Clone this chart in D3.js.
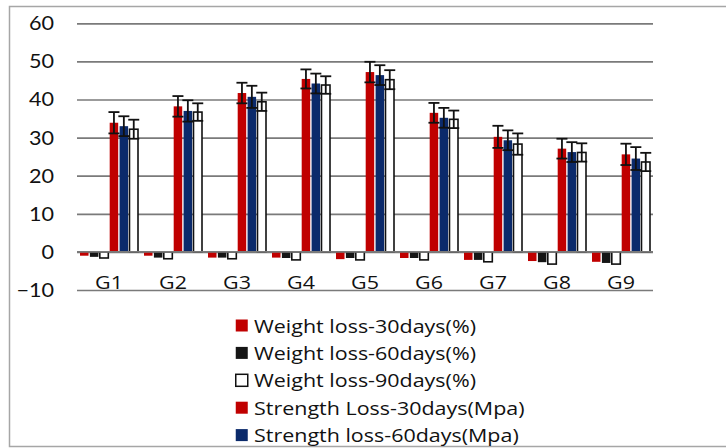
<!DOCTYPE html>
<html>
<head>
<meta charset="utf-8">
<script src="https://cdn.jsdelivr.net/npm/d3@7"></script>
<style>
  html, body { margin: 0; padding: 0; background: #fff; }
  svg { display: block; font-family: Lato, "Open Sans", sans-serif; }
</style>
</head>
<body>
<svg id="chart" width="726" height="448"></svg>
<script>
const groups = ["G1","G2","G3","G4","G5","G6","G7","G8","G9"];
const seriesNames = [
  "Weight loss-30days(%)",
  "Weight loss-60days(%)",
  "Weight loss-90days(%)",
  "Strength Loss-30days(Mpa)",
  "Strength loss-60days(Mpa)",
  "Strength loss-90days(Mpa)"
];
const weight30 = [-1.0, -1.0, -1.5, -1.5, -1.9, -1.6, -2.1, -2.4, -2.6];
const weight60 = [-1.3, -1.5, -1.5, -1.6, -1.6, -1.6, -2.1, -2.7, -2.9];
const weight90 = [-1.6, -1.8, -1.8, -2.1, -2.1, -2.1, -2.6, -3.2, -3.2];
const strength30 = [33.9, 38.2, 41.7, 45.4, 47.2, 36.5, 30.2, 27.1, 25.6];
const strength60 = [33.0, 37.0, 40.7, 44.2, 46.4, 35.2, 29.3, 26.2, 24.5];
const strength90 = [32.2, 36.7, 39.4, 43.8, 45.2, 34.8, 28.3, 26.1, 23.6];
const strength30Err = [2.8, 2.7, 2.7, 2.5, 2.7, 2.6, 2.9, 2.6, 2.8];
const strength60Err = [2.6, 2.8, 2.9, 2.6, 2.6, 2.6, 2.6, 2.6, 3.0];
const strength90Err = [2.5, 2.3, 2.4, 2.3, 2.5, 2.3, 2.8, 2.4, 2.4];
const yTicks = [-10, 0, 10, 20, 30, 40, 50, 60];
// the reference picture crops the legend after its fifth entry
const visibleLegendCount = 5;

const seriesValues = [weight30, weight60, weight90, strength30, strength60, strength90];
const seriesErrors = [null, null, null, strength30Err, strength60Err, strength90Err];
const fills = ["#c00000", "#151515", "#ffffff", "#c00000", "#0b2a6b", "#ffffff"];
const strokes = ["none", "none", "#111", "none", "none", "#111"];
const stretch = 1.13; // the reference picture is horizontally stretched

const svg = d3.select("#chart");

// outer frame
svg.append("rect")
  .attr("x", 9.5).attr("y", 6.5)
  .attr("width", 730).attr("height", 440)
  .attr("fill", "none").attr("stroke", "#a6a6a6").attr("stroke-width", 1.5);

const x0 = d3.scaleBand().domain(groups).range([77, 653]).padding(0);
const x1 = d3.scaleBand().domain(d3.range(seriesNames.length)).range([3, 61]).paddingInner(0.14);
const y = d3.scaleLinear().domain([-10, 60]).range([290, 23.3]);

// gridlines + y labels
const yAxis = d3.axisLeft(y).tickValues(yTicks).tickSize(-(653 - 77)).tickPadding(23).tickFormat(d3.format("d"));
const ga = svg.append("g").attr("transform", "translate(77,0)").call(yAxis);
ga.select(".domain").remove();
ga.selectAll(".tick line").attr("stroke", "#7a7a7a").attr("stroke-width", 1.7);
ga.selectAll(".tick text")
  .attr("fill", "#111")
  .attr("x", -23 / 1.08)
  .attr("transform", "scale(1.08,1)")
  .style("font-size", "20px").style("font-family", "Lato, sans-serif");

// category labels
svg.append("g").selectAll("text").data(groups).join("text")
  .attr("transform", d => `translate(${x0(d) + x0.bandwidth() / 2},289) scale(${stretch},1)`)
  .attr("text-anchor", "middle")
  .attr("fill", "#111")
  .style("font-family", "'Open Sans', sans-serif")
  .style("font-size", "19px")
  .text(d => d);

// bars
const barData = [];
seriesValues.forEach((vals, si) => {
  vals.forEach((v, gi) => barData.push({ si, g: groups[gi], v, e: seriesErrors[si] ? seriesErrors[si][gi] : null }));
});

svg.append("g").selectAll("rect").data(barData).join("rect")
  .attr("x", d => x0(d.g) + x1(d.si))
  .attr("y", d => y(Math.max(0, d.v)))
  .attr("width", x1.bandwidth())
  .attr("height", d => Math.abs(y(d.v) - y(0)))
  .attr("fill", d => fills[d.si])
  .attr("stroke", d => strokes[d.si])
  .attr("stroke-width", 1.6);

// error bars
const errData = barData.filter(d => d.e != null);
const eg = svg.append("g").attr("stroke", "#111").attr("stroke-width", 1.8).attr("fill", "none");
errData.forEach(d => {
  const cx = x0(d.g) + x1(d.si) + x1.bandwidth() / 2;
  const capW = 5.5;
  eg.append("line").attr("x1", cx).attr("x2", cx).attr("y1", y(d.v + d.e)).attr("y2", y(d.v - d.e));
  eg.append("line").attr("x1", cx - capW).attr("x2", cx + capW).attr("y1", y(d.v + d.e)).attr("y2", y(d.v + d.e));
  eg.append("line").attr("x1", cx - capW).attr("x2", cx + capW).attr("y1", y(d.v - d.e)).attr("y2", y(d.v - d.e));
});

// zero line
svg.append("line").attr("x1", 77).attr("x2", 653).attr("y1", y(0)).attr("y2", y(0))
  .attr("stroke", "#7a7a7a").attr("stroke-width", 1.7);

// legend
const lg = svg.append("g").attr("transform", "translate(235,326)");
const items = lg.selectAll("g").data(seriesNames.slice(0, visibleLegendCount)).join("g")
  .attr("transform", (d, i) => `translate(0,${i * 27.4})`);
items.append("rect")
  .attr("x", 0.75).attr("y", -6.5).attr("width", 12).attr("height", 12)
  .attr("fill", (d, i) => fills[i])
  .attr("stroke", (d, i) => strokes[i] === "none" ? "none" : "#111")
  .attr("stroke-width", 1.5);
items.append("text")
  .attr("transform", `translate(19,0) scale(${stretch},1)`)
  .attr("dy", "0.35em")
  .attr("fill", "#111")
  .style("font-family", "'Open Sans', sans-serif")
  .style("font-size", "19px")
  .text(d => d);
</script>
</body>
</html>
